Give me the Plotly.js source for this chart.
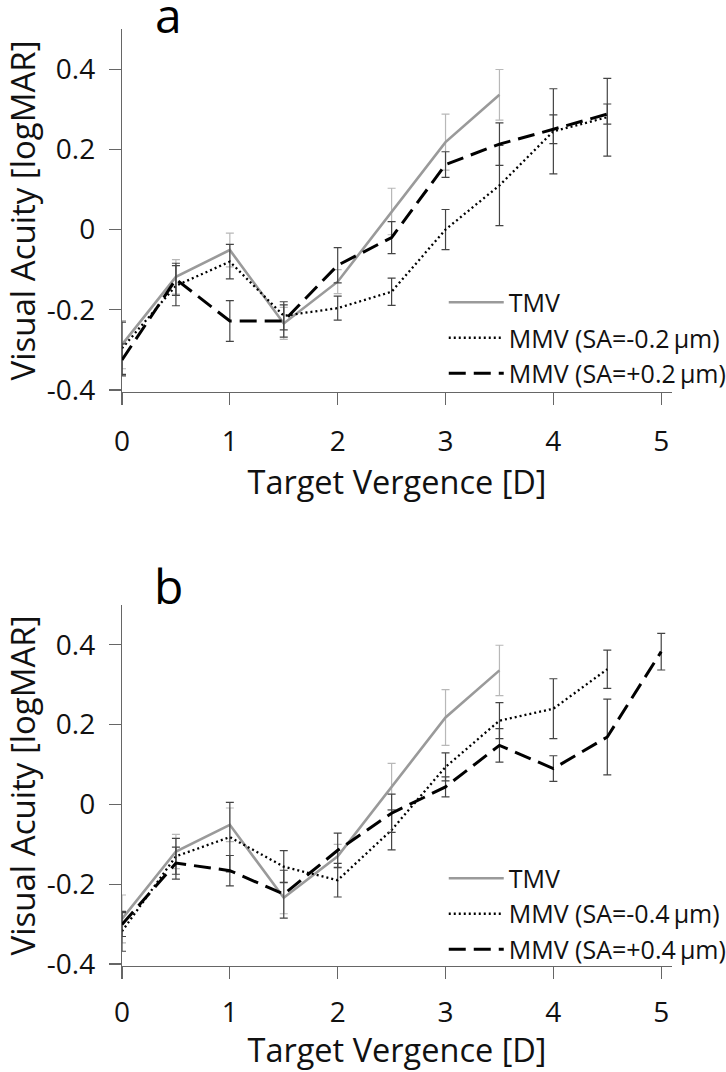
<!DOCTYPE html>
<html>
<head>
<meta charset="utf-8">
<script src="https://cdn.plot.ly/plotly-3.0.1.min.js"></script>
<style>
  html, body { margin: 0; padding: 0; background: #fff; }
  #chart { width: 726px; height: 1072px; }
</style>
</head>
<body>
<div id="chart"></div>
<script>
// ---------- data ----------
const vergenceTMV = [0, 0.5, 1, 1.5, 2, 2.5, 3, 3.5];
const tmv    = [-0.287, -0.118, -0.051, -0.234, -0.130, 0.045, 0.218, 0.336];
const tmvErr = [0.060, 0.043, 0.042, 0.040, 0.030, 0.058, 0.070, 0.063];

// panel a
const vergenceA = [0, 0.5, 1, 1.5, 2, 2.5, 3, 3.5, 4, 4.5];
const mmvMinus02    = [-0.296, -0.140, -0.080, -0.215, -0.196, -0.155, 0.000, 0.110, 0.245, 0.280];
const mmvMinus02Err = [0.065, 0.050, 0.043, 0.035, 0.030, 0.034, 0.050, 0.100, 0.106, 0.097];
const mmvPlus02     = [-0.325, -0.124, -0.228, -0.228, -0.089, -0.020, 0.162, 0.213, 0.250, 0.288];
const mmvPlus02Err  = [0.040, 0.040, 0.051, 0.040, 0.044, 0.040, 0.032, 0.053, 0.036, 0.025];

// panel b
const vergenceBMinus = [0, 0.5, 1, 1.5, 2, 2.5, 3, 3.5, 4, 4.5];
const mmvMinus04     = [-0.318, -0.130, -0.082, -0.156, -0.190, -0.064, 0.094, 0.210, 0.240, 0.339];
const mmvMinus04Err  = [0.050, 0.045, 0.087, 0.040, 0.042, 0.050, 0.035, 0.045, 0.075, 0.048];
const vergenceBPlus  = [0, 0.5, 1, 1.5, 2, 2.5, 3, 3.5, 4, 4.5, 5];
const mmvPlus04      = [-0.301, -0.147, -0.166, -0.225, -0.115, -0.022, 0.044, 0.148, 0.090, 0.169, 0.383];
const mmvPlus04Err   = [0.030, 0.040, 0.038, 0.060, 0.043, 0.048, 0.025, 0.042, 0.032, 0.095, 0.046];

const xTickVals = [0, 1, 2, 3, 4, 5];
const xTickText = ['0', '1', '2', '3', '4', '5'];
const yTickVals = [-0.4, -0.2, 0, 0.2, 0.4];
const yTickText = ['-0.4', '-0.2', '0', '0.2', '0.4'];

const seriesNamesA = ['TMV', 'MMV (SA=-0.2\u2009\u03bcm)', 'MMV (SA=+0.2\u2009\u03bcm)'];
const seriesNamesB = ['TMV', 'MMV (SA=-0.4\u2009\u03bcm)', 'MMV (SA=+0.4\u2009\u03bcm)'];
const panelLabels = ['a', 'b'];

// ---------- styles ----------
const FONT = '"Open Sans", "DejaVu Sans", sans-serif';
const grayLine = { color: '#9a9a9a', width: 2.6, dash: 'solid' };
const dotLine  = { color: '#000000', width: 2.3, dash: '2px,3px' };
const dashLine = { color: '#000000', width: 3, dash: '17px,8px' };
const errLight = (arr) => ({ type: 'data', array: arr, visible: true, color: '#b8b8b8', thickness: 1.2, width: 4 });
const errDark  = (arr) => ({ type: 'data', array: arr, visible: true, color: '#444444', thickness: 1.2, width: 4 });

function trace(x, y, err, name, line, errFn, xa, ya, legend) {
  return { x: x, y: y, name: name, type: 'scatter', mode: 'lines', line: line,
           error_y: errFn(err), xaxis: xa, yaxis: ya, legend: legend, hoverinfo: 'skip' };
}

const data = [
  trace(vergenceTMV, tmv, tmvErr, seriesNamesA[0], grayLine, errLight, 'x', 'y', 'legend'),
  trace(vergenceA, mmvMinus02, mmvMinus02Err, seriesNamesA[1], dotLine, errDark, 'x', 'y', 'legend'),
  trace(vergenceA, mmvPlus02, mmvPlus02Err, seriesNamesA[2], dashLine, errDark, 'x', 'y', 'legend'),
  trace(vergenceTMV, tmv, tmvErr, seriesNamesB[0], grayLine, errLight, 'x2', 'y2', 'legend2'),
  trace(vergenceBMinus, mmvMinus04, mmvMinus04Err, seriesNamesB[1], dotLine, errDark, 'x2', 'y2', 'legend2'),
  trace(vergenceBPlus, mmvPlus04, mmvPlus04Err, seriesNamesB[2], dashLine, errDark, 'x2', 'y2', 'legend2'),
];

function xAxis(anchor, standoff) {
  return {
    anchor: anchor, range: [0, 5.1], showgrid: false, zeroline: false,
    showline: true, linecolor: '#666', linewidth: 1.2,
    ticks: 'outside', ticklen: 12, tickwidth: 1.2, tickcolor: '#666',
    tickvals: xTickVals, ticktext: xTickText,
    tickfont: { family: FONT, size: 28, color: '#111' },
    ticklabelstandoff: standoff,
    title: { text: 'Target Vergence [D]', font: { family: FONT, size: 32.5, color: '#111' }, standoff: 0 },
    fixedrange: true,
  };
}
function yAxis(anchor, domain) {
  return {
    anchor: anchor, domain: domain, range: [-0.405, 0.5], showgrid: false, zeroline: false,
    showline: true, linecolor: '#666', linewidth: 1.2,
    ticks: 'outside', ticklen: 12, tickwidth: 1.2, tickcolor: '#666',
    tickvals: yTickVals, ticktext: yTickText,
    tickfont: { family: FONT, size: 28, color: '#111' },
    ticklabelstandoff: 8,
    title: { text: 'Visual Acuity [logMAR]', font: { family: FONT, size: 33, color: '#111' }, standoff: 20 },
    fixedrange: true,
  };
}

const legendBase = {
  font: { family: FONT, size: 25, color: '#111' },
  bgcolor: 'rgba(0,0,0,0)', borderwidth: 0, itemwidth: 55,
  xanchor: 'left', yanchor: 'middle', tracegroupgap: 0,
};

const layout = {
  width: 726, height: 1072,
  margin: { l: 122, r: 54, t: 29, b: 106, autoexpand: false },
  paper_bgcolor: '#fff', plot_bgcolor: '#fff',
  showlegend: true,
  xaxis: xAxis('y', 12),
  yaxis: yAxis('x', [0.6126, 1]),
  xaxis2: xAxis('y2', 9),
  yaxis2: yAxis('x2', [0, 0.3853]),
  legend: Object.assign({}, legendBase, { x: 0.585, y: 0.6702 }),
  legend2: Object.assign({}, legendBase, { x: 0.585, y: 0.0555 }),
  annotations: panelLabels.map((t, i) => ({
    text: t, xref: 'paper', yref: 'paper', x: 0.085, y: i === 0 ? 1.016 : 0.4061,
    xanchor: 'center', yanchor: 'middle', showarrow: false,
    font: { family: FONT, size: 48, color: '#000' },
  })),
};

Plotly.newPlot('chart', data, layout, { staticPlot: true, displayModeBar: false });
</script>
</body>
</html>
